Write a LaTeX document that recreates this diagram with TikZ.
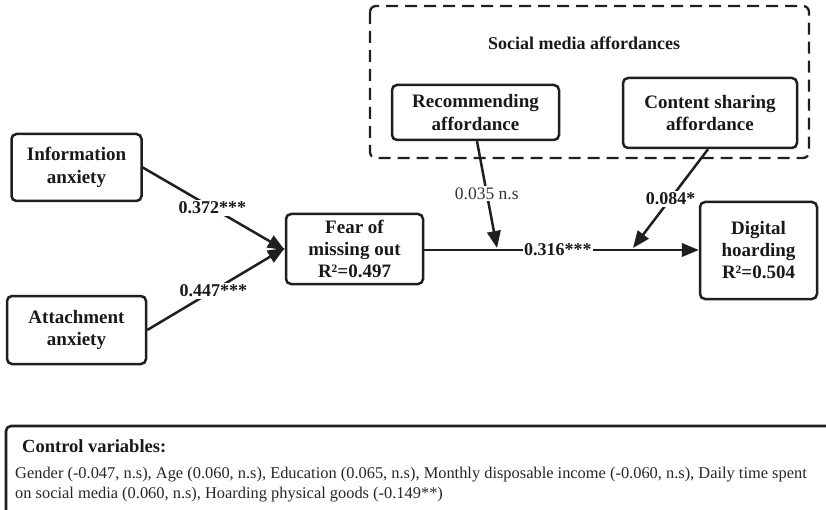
\documentclass[tikz,border=0pt]{standalone}
\usepackage{fontspec}
\setmainfont{Liberation Serif}
\usetikzlibrary{arrows.meta,calc}
\begin{document}
\begin{tikzpicture}[x=1pt,y=-1pt,
  every node/.style={inner sep=1pt},
  construct/.style={draw=black!88, line width=2.5pt, rounded corners=5pt, align=center,
    font=\fontsize{19}{22.5}\selectfont\bfseries, text=black!90},
  path/.style={draw=black!88, line width=2.5pt, -{Triangle[length=17pt,width=13.5pt]}},
  coef/.style={fill=white, font=\fontsize{18}{20}\selectfont\bfseries, text=black!90, inner sep=2pt},
  coefns/.style={fill=white, font=\fontsize{17.5}{20}\selectfont, text=black!80, inner sep=2pt}]
\useasboundingbox (0,0) rectangle (826,510);

% moderator group
\draw[black!88, line width=2.3pt, dash pattern=on 12pt off 7pt, rounded corners=6pt]
  (370,6) rectangle (809,158);
\node[font=\fontsize{18}{21}\selectfont\bfseries, text=black!90] (smlabel) at (584,43) {Social media affordances};

% constructs
\node[construct, minimum width=130pt, minimum height=67pt] (info) at (76.5,167.5) {Information\\anxiety};
\node[construct, minimum width=139pt, minimum height=68pt] (attach) at (76.5,330) {Attachment\\anxiety};
\node[construct, minimum width=137pt, minimum height=70pt, font=\fontsize{19}{22}\selectfont\bfseries] (fomo) at (354.5,249) {Fear of\\missing out\\R²=0.497};
\node[construct, minimum width=117pt, minimum height=97pt, font=\fontsize{19}{22}\selectfont\bfseries] (dh) at (758.5,250.5) {Digital\\hoarding\\R²=0.504};
\node[construct, minimum width=167pt, minimum height=55pt] (rec) at (475.5,112.5) {Recommending\\affordance};
\node[construct, minimum width=174pt, minimum height=70pt] (cs) at (710,113) {Content sharing\\affordance};

% paths
\draw[path] (info.east) -- ([yshift=-1pt]fomo.west) node[coef, pos=0.49] {0.372***};
\draw[path] (attach.east) -- ([yshift=1pt]fomo.west) node[coef, pos=0.48] {0.447***};
\coordinate (fo) at ([yshift=-1pt]fomo.east);
\draw[path] (fo) -- (fo -| dh.west) node[coef, pos=0.487, inner xsep=1pt] {0.316***};

% moderation paths
\coordinate (m1) at (497,248);
\coordinate (m2) at (633,248);
\draw[path] ([xshift=1.5pt]rec.south) -- (m1) node[coefns, pos=0.49] {0.035 n.s};
\draw[path] ([xshift=-2pt]cs.south) -- (m2) node[coef, pos=0.5] {0.084*};

% control variables panel
\draw[black!88, line width=2.6pt, rounded corners=5pt] (6,530) -- (6,426) -- (840,426);
\node[anchor=base west, font=\fontsize{18.5}{20}\selectfont\bfseries, text=black!90] (ctrl) at (21,452) {Control variables:};
\node[anchor=base west, font=\fontsize{16.4}{20}\selectfont, text=black!85, inner sep=0pt] (ctrl1) at (15,478)
  {Gender (-0.047, n.s), Age (0.060, n.s), Education (0.065, n.s), Monthly disposable income (-0.060, n.s), Daily time spent};
\node[anchor=base west, font=\fontsize{16.4}{20}\selectfont, text=black!85, inner sep=0pt] (ctrl2) at (15,498)
  {on social media (0.060, n.s), Hoarding physical goods (-0.149**)};
\end{tikzpicture}
\end{document}
